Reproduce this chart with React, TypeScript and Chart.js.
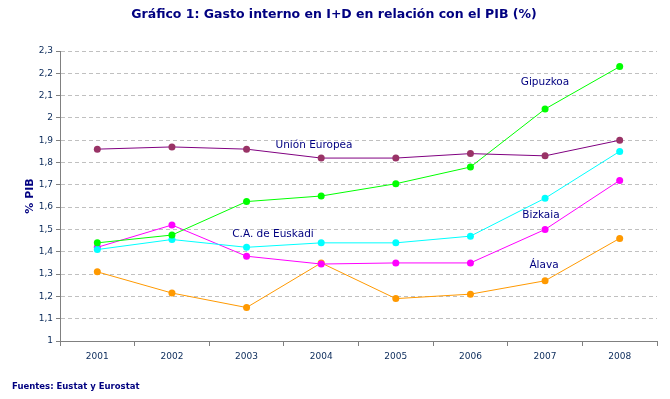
import React, { useEffect, useRef } from "react";
import { Chart, registerables } from "chart.js";

Chart.register(...registerables);

const years = ["2001", "2002", "2003", "2004", "2005", "2006", "2007", "2008"];
const unionEuropea = [1.86, 1.87, 1.86, 1.82, 1.82, 1.84, 1.83, 1.9];
const gipuzkoa = [1.44, 1.475, 1.625, 1.65, 1.705, 1.78, 2.04, 2.23];
const euskadi = [1.41, 1.455, 1.42, 1.44, 1.44, 1.47, 1.64, 1.85];
const bizkaia = [1.42, 1.52, 1.38, 1.345, 1.35, 1.35, 1.5, 1.72];
const alava = [1.31, 1.215, 1.15, 1.35, 1.19, 1.21, 1.27, 1.46];

const titleText = "Gráfico 1: Gasto interno en I+D en relación con el PIB (%)";
const yTitle = "% PIB";
const sourceText = "Fuentes: Eustat y Eurostat";
const seriesLabels = [
  { text: "Unión Europea", x: 314, y: 145 },
  { text: "Gipuzkoa", x: 545, y: 82 },
  { text: "C.A. de Euskadi", x: 273, y: 234 },
  { text: "Bizkaia", x: 541, y: 215 },
  { text: "Álava", x: 544, y: 265 },
];

const FONT = "'DejaVu Sans', Verdana, sans-serif";
const NAVY = "#000080";
const TICK = "#0A2A5A";

const textPlugin = {
  id: "texts",
  afterDraw(chart: any) {
    const ctx = chart.ctx;
    ctx.save();
    ctx.fillStyle = NAVY;
    ctx.textBaseline = "middle";
    ctx.textAlign = "center";
    ctx.font = `bold 12.5px ${FONT}`;
    ctx.fillText(titleText, 334, 15);
    ctx.font = `10.5px ${FONT}`;
    for (const l of seriesLabels) ctx.fillText(l.text, l.x, l.y);
    ctx.font = `bold 8.5px ${FONT}`;
    ctx.textAlign = "left";
    ctx.fillText(sourceText, 12, 387);
    ctx.translate(30, 196);
    ctx.rotate(-Math.PI / 2);
    ctx.textAlign = "center";
    ctx.font = `bold 11px ${FONT}`;
    ctx.fillText(yTitle, 0, 0);
    ctx.restore();
  },
};

function ds(label: string, data: number[], line: string, point: string) {
  return {
    label,
    data,
    borderColor: line,
    backgroundColor: point,
    pointBackgroundColor: point,
    pointBorderColor: point,
    borderWidth: 1,
    pointRadius: 3.5,
    pointBorderWidth: 0,
    tension: 0,
  };
}

export default function App() {
  const ref = useRef<HTMLCanvasElement>(null);
  useEffect(() => {
    const chart = new Chart(ref.current!, {
      type: "line",
      data: {
        labels: years,
        datasets: [
          ds("Unión Europea", unionEuropea, "#800080", "#993366"),
          ds("Gipuzkoa", gipuzkoa, "#00FF00", "#00FF00"),
          ds("C.A. de Euskadi", euskadi, "#00FFFF", "#00FFFF"),
          ds("Bizkaia", bizkaia, "#FF00FF", "#FF00FF"),
          ds("Álava", alava, "#FF9900", "#FF9900"),
        ],
      },
      options: {
        animation: false,
        responsive: false,
        maintainAspectRatio: false,
        layout: { padding: { left: 0, right: 13, top: 51, bottom: 28 } },
        plugins: { legend: { display: false }, tooltip: { enabled: false }, title: { display: false } },
        scales: {
          x: {
            offset: true,
            grid: { offset: true, drawOnChartArea: false, drawTicks: true, tickLength: 5, color: "#808080" },
            border: { color: "#808080", width: 1 },
            ticks: { color: TICK, font: { family: FONT, size: 9 }, padding: 5, maxRotation: 0 },
            afterFit: (s: any) => { s.height = 30; },
          },
          y: {
            min: 1,
            max: 2.3,
            grid: {
              color: "#C0C0C0",
              tickBorderDash: [1, 0],
              tickColor: "#808080",
              drawTicks: true,
              tickLength: 4,
            },
            border: { color: "#808080", width: 1, dash: [4, 3] },
            ticks: {
              stepSize: 0.1,
              color: TICK,
              font: { family: FONT, size: 9 },
              padding: 3,
              callback: (v: any) => {
                const n = Math.round(Number(v) * 10) / 10;
                return String(n).replace(".", ",");
              },
            },
            afterFit: (s: any) => { s.width = 60; },
          },
        },
      } as any,
      plugins: [textPlugin],
    });
    return () => chart.destroy();
  }, []);
  return (
    <div style={{ position: "absolute", left: 0, top: 0, width: 670, height: 399, background: "#fff" }}>
      <canvas ref={ref} width={670} height={399} style={{ display: "block", width: 670, height: 399 }} />
    </div>
  );
}
